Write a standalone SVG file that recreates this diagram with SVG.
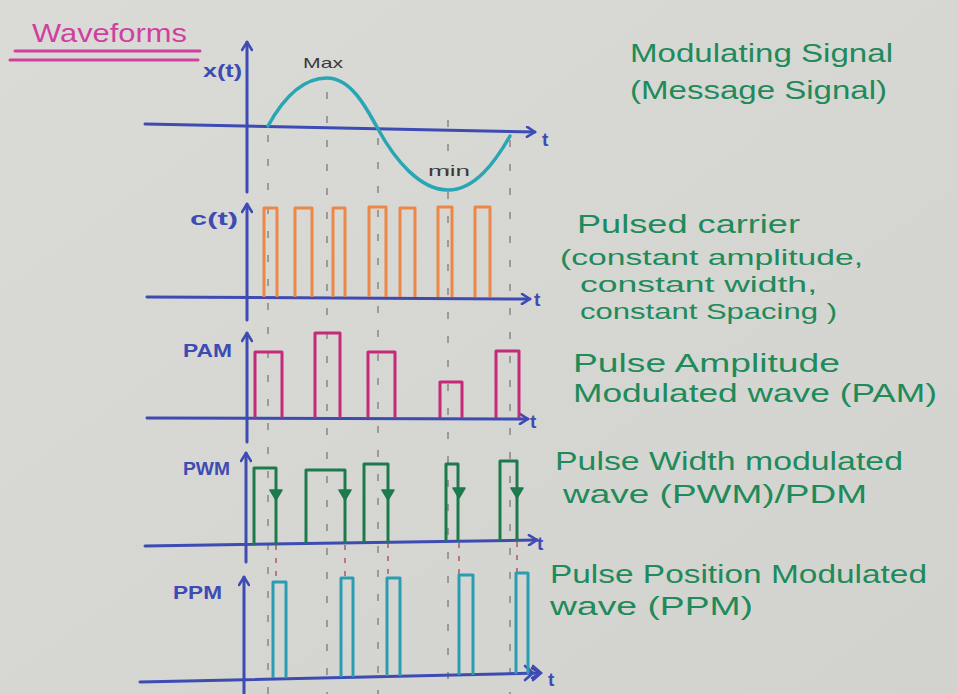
<svg xmlns="http://www.w3.org/2000/svg" width="957" height="694" viewBox="0 0 957 694">
<defs>
<linearGradient id="paper" x1="0" y1="0" x2="1" y2="1">
<stop offset="0" stop-color="#dadbd7"/>
<stop offset="1" stop-color="#d2d3cf"/>
</linearGradient>
<marker id="ah" viewBox="0 0 12 12" refX="10" refY="6" markerWidth="12" markerHeight="12" markerUnits="userSpaceOnUse" orient="auto">
<path d="M2,1 L10,6 L2,11" fill="none" stroke="#3d4bb3" stroke-width="2.6" stroke-linecap="round" stroke-linejoin="round"/>
</marker>
</defs>
<style>
.axis{stroke:#3d4bb3;stroke-width:3;fill:none;stroke-linecap:round;marker-end:url(#ah)}
.hax{stroke:#3d4bb3;stroke-width:3;fill:none;stroke-linecap:round;marker-end:url(#ah)}
.dash{stroke:#7a7a78;stroke-width:1.3;stroke-dasharray:7 17;fill:none}
.rdash{stroke:#b04050;stroke-width:1.3;stroke-dasharray:5 8;fill:none}
.kdot{stroke:#2a3a70;stroke-width:1.6;stroke-dasharray:2 6;fill:none}
.sine{stroke:#2aa5b3;stroke-width:3.5;fill:none;stroke-linecap:round}
.car{stroke:#ec8748;stroke-width:3;fill:none;stroke-linejoin:round}
.pam{stroke:#c42a78;stroke-width:3;fill:none;stroke-linejoin:round}
.pwm{stroke:#1c7a4c;stroke-width:3;fill:none;stroke-linejoin:round}
.ppm{stroke:#2a9db3;stroke-width:3;fill:none;stroke-linejoin:round}
.lbl{font-family:"Liberation Sans",Arial,sans-serif;fill:#3d4bb3;font-weight:bold;font-size:19px}
.note{font-family:"Liberation Sans",Arial,sans-serif;fill:#3a3a3a;font-size:15px}
.gt{font-family:"Liberation Sans",Arial,sans-serif;fill:#1f8a5a;font-size:26px}
.gs{font-family:"Liberation Sans",Arial,sans-serif;fill:#1f8a5a;font-size:22px}
.title{font-family:"Liberation Sans",Arial,sans-serif;fill:#d0409e;font-size:26px}
</style>
<rect width="957" height="694" fill="url(#paper)"/>

<g id="title">
<text class="title" x="32" y="42" textLength="155" lengthAdjust="spacingAndGlyphs">Waveforms</text>
<path d="M15,51 L200,51 M10,60 L198,60" stroke="#d0409e" stroke-width="3" fill="none" stroke-linecap="round"/>
</g>

<g id="sampling-lines">
<path class="dash" d="M268,135 V694 M327,92 V694 M378,138 V694 M448,120 V694 M510,140 V694"/>
<path class="rdash" d="M276,545 V580 M345,545 V578 M388,543 V578 M459,543 V576 M517,542 V574"/>
<path class="kdot" d="M273,585 V675 M341,580 V675 M387,580 V675 M459,578 V675 M516,576 V674"/>
</g>

<g id="message-signal">
<path class="axis" d="M247,192 V42"/>
<path class="hax" d="M145,124 L535,132"/>
<text class="lbl" x="203" y="77" textLength="39" lengthAdjust="spacingAndGlyphs">x(t)</text>
<text class="lbl" x="542" y="146">t</text>
<path class="sine" d="M268,126 C285,95 305,78 327,78 C350,78 365,105 378,129 C395,160 420,190 448,190 C475,190 495,162 510,136"/>
<text class="note" x="303" y="68" textLength="40" lengthAdjust="spacingAndGlyphs">Max</text>
<text class="note" x="428" y="176" textLength="42" lengthAdjust="spacingAndGlyphs">min</text>
</g>

<g id="pulsed-carrier">
<path class="axis" d="M247,320 V204"/>
<path class="hax" d="M147,297 L530,299"/>
<text class="lbl" x="190" y="225" textLength="48" lengthAdjust="spacingAndGlyphs">c(t)</text>
<text class="lbl" x="534" y="306">t</text>
<path class="car" d="M264,297 V208 H277 V297 M295,297 V208 H312 V297 M333,297 V208 H345 V297 M369,297 V207 H386 V297 M400,297 V208 H415 V297 M438,297 V207 H452 V297 M475,297 V207 H490 V297"/>
</g>

<g id="pam">
<path class="axis" d="M247,442 V333"/>
<path class="hax" d="M147,418 L528,419"/>
<text class="lbl" x="183" y="357" textLength="49" lengthAdjust="spacingAndGlyphs">PAM</text>
<text class="lbl" x="530" y="428">t</text>
<path class="pam" d="M255,418 V352 H282 V418 M315,418 V333 H340 V418 M368,418 V352 H395 V418 M440,418 V382 H462 V418 M496,418 V351 H519 V418"/>
</g>

<g id="pwm">
<path class="axis" d="M246,562 V453"/>
<path class="hax" d="M145,546 L537,540"/>
<text class="lbl" x="183" y="475" textLength="47" lengthAdjust="spacingAndGlyphs">PWM</text>
<text class="lbl" x="537" y="550">t</text>
<path class="pwm" d="M254,545 V468 H276 V545 M306,544 V470 H345 V544 M364,543 V464 H388 V543 M446,542 V464 H458 V542 M500,541 V461 H517 V541"/>
<path d="M270,490 L282,490 L276,500 Z M339,490 L351,490 L345,500 Z M382,490 L394,490 L388,500 Z M453,488 L465,488 L459,498 Z M511,488 L523,488 L517,498 Z" fill="#1c7a4c" stroke="#1c7a4c" stroke-width="1.5" stroke-linejoin="round"/>
</g>

<g id="ppm">
<path class="axis" d="M244,694 V577"/>
<path class="hax" d="M140,682 L540,673"/>
<path d="M525,666 L533,673 L525,680 M533,666 L541,673 L533,680" stroke="#3d4bb3" stroke-width="2.6" fill="none" stroke-linecap="round"/>
<text class="lbl" x="173" y="599" textLength="49" lengthAdjust="spacingAndGlyphs">PPM</text>
<text class="lbl" x="548" y="686">t</text>
<path class="ppm" d="M273,678 V582 H286 V678 M341,677 V578 H353 V677 M387,676 V578 H400 V676 M459,675 V575 H473 V675 M516,674 V573 H528 V674"/>
</g>

<g id="descriptions">
<text class="gt" x="630" y="62" textLength="263" lengthAdjust="spacingAndGlyphs">Modulating Signal</text>
<text class="gt" x="630" y="99" textLength="257" lengthAdjust="spacingAndGlyphs">(Message Signal)</text>
<text class="gt" x="577" y="233" textLength="223" lengthAdjust="spacingAndGlyphs">Pulsed carrier</text>
<text class="gs" x="560" y="265" textLength="303" lengthAdjust="spacingAndGlyphs">(constant amplitude,</text>
<text class="gs" x="580" y="292" textLength="237" lengthAdjust="spacingAndGlyphs">constant width,</text>
<text class="gs" x="580" y="319" textLength="257" lengthAdjust="spacingAndGlyphs">constant Spacing )</text>
<text class="gt" x="573" y="372" textLength="267" lengthAdjust="spacingAndGlyphs">Pulse Amplitude</text>
<text class="gt" x="573" y="402" textLength="364" lengthAdjust="spacingAndGlyphs">Modulated wave (PAM)</text>
<text class="gt" x="555" y="470" textLength="348" lengthAdjust="spacingAndGlyphs">Pulse Width modulated</text>
<text class="gt" x="563" y="503" textLength="304" lengthAdjust="spacingAndGlyphs">wave (PWM)/PDM</text>
<text class="gt" x="550" y="583" textLength="377" lengthAdjust="spacingAndGlyphs">Pulse Position Modulated</text>
<text class="gt" x="550" y="615" textLength="203" lengthAdjust="spacingAndGlyphs">wave (PPM)</text>
</g>
</svg>
